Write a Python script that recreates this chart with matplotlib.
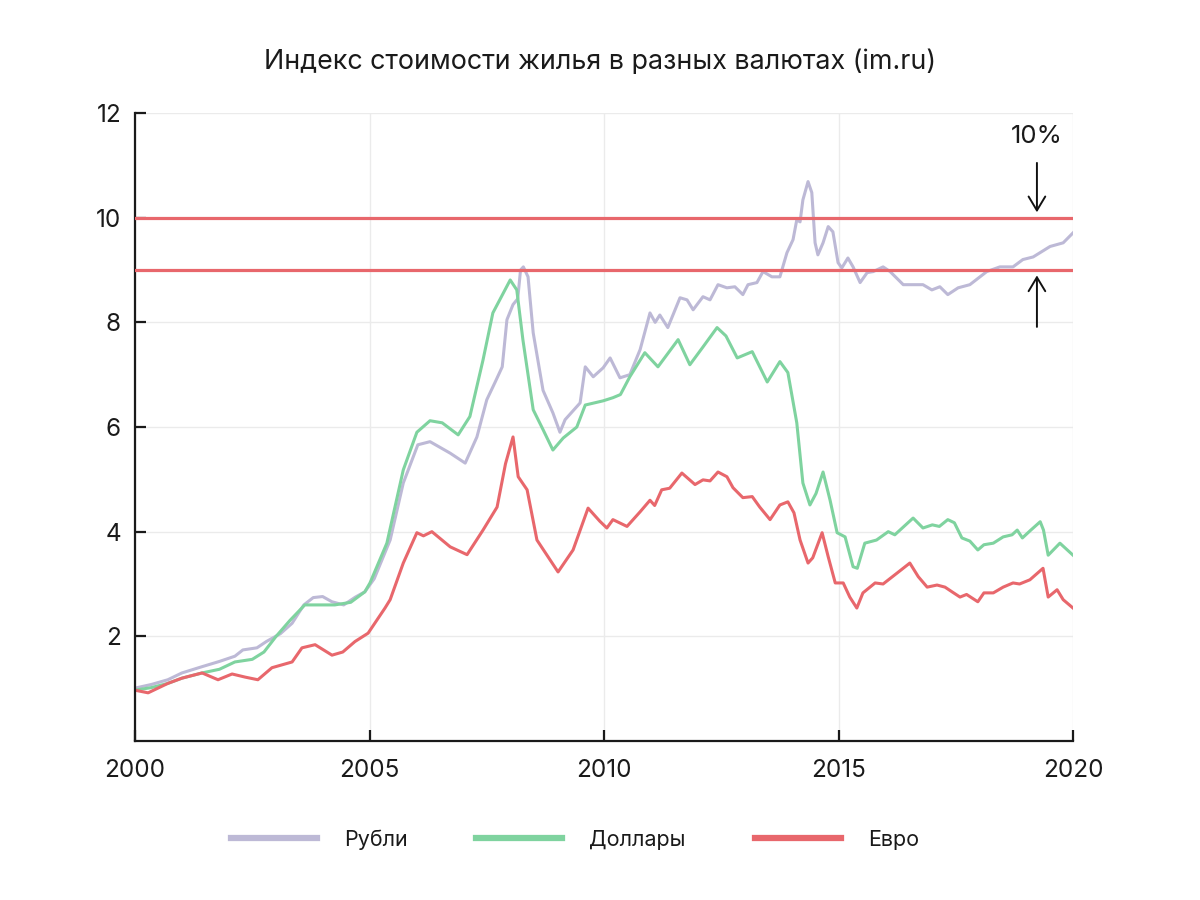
import numpy as np
import matplotlib.pyplot as plt

plt.rcParams['font.family'] = ['Inter', 'DejaVu Sans']

# index values (year, value)
rub_x = [2000.0, 2000.35, 2000.7, 2001.0, 2001.43, 2001.8, 2002.13, 2002.3, 2002.6, 2002.8,
         2003.1, 2003.35, 2003.6, 2003.8, 2004.0, 2004.2, 2004.45, 2004.7, 2004.9, 2005.1,
         2005.44, 2005.72, 2006.03, 2006.29, 2006.72, 2007.04, 2007.29, 2007.5, 2007.68, 2007.83,
         2007.93, 2008.06, 2008.16, 2008.22, 2008.28, 2008.38, 2008.49, 2008.7, 2008.91, 2009.06,
         2009.17, 2009.49, 2009.6, 2009.77, 2009.98, 2010.13, 2010.34, 2010.55, 2010.77, 2010.98,
         2011.09, 2011.19, 2011.36, 2011.62, 2011.77, 2011.9, 2012.11, 2012.26, 2012.43, 2012.62,
         2012.79, 2012.96, 2013.07, 2013.26, 2013.39, 2013.58, 2013.75, 2013.9, 2014.03, 2014.11,
         2014.18, 2014.24, 2014.35, 2014.43, 2014.5, 2014.56, 2014.67, 2014.78, 2014.88, 2014.99,
         2015.07, 2015.2, 2015.31, 2015.46, 2015.61, 2015.74, 2015.95, 2016.1, 2016.38, 2016.8,
         2016.99, 2017.16, 2017.33, 2017.55, 2017.8, 2018.16, 2018.44, 2018.72, 2018.93, 2019.15,
         2019.51, 2019.79, 2020.0]
rub_y = [1.01, 1.08, 1.17, 1.3, 1.42, 1.52, 1.62, 1.74, 1.78, 1.9,
         2.05, 2.25, 2.6, 2.74, 2.76, 2.66, 2.6, 2.75, 2.85, 3.1,
         3.84, 4.93, 5.66, 5.72, 5.5, 5.31, 5.81, 6.52, 6.86, 7.15,
         8.05, 8.34, 8.45, 9.0, 9.06, 8.87, 7.8, 6.7, 6.27, 5.9,
         6.14, 6.46, 7.15, 6.96, 7.13, 7.32, 6.94, 7.0, 7.48, 8.18,
         8.0, 8.14, 7.9, 8.47, 8.43, 8.24, 8.49, 8.43, 8.72, 8.66,
         8.68, 8.53, 8.72, 8.76, 8.97, 8.87, 8.87, 9.33, 9.58, 9.96,
         9.92, 10.34, 10.69, 10.48, 9.52, 9.29, 9.52, 9.83, 9.73, 9.14,
         9.04, 9.23, 9.06, 8.76, 8.95, 8.97, 9.06, 8.97, 8.72, 8.72,
         8.62, 8.68, 8.53, 8.66, 8.72, 8.97, 9.06, 9.06, 9.2, 9.25,
         9.45, 9.52, 9.71]

usd_x = [2000.0, 2000.35, 2000.7, 2001.0, 2001.43, 2001.8, 2002.13, 2002.5, 2002.75, 2003.0,
         2003.3, 2003.62, 2004.0, 2004.26, 2004.6, 2004.9, 2005.01, 2005.37, 2005.72, 2006.01,
         2006.29, 2006.55, 2006.89, 2007.14, 2007.42, 2007.63, 2008.0, 2008.14, 2008.27, 2008.49,
         2008.7, 2008.91, 2009.13, 2009.42, 2009.6, 2009.98, 2010.19, 2010.35, 2010.55, 2010.87,
         2011.15, 2011.58, 2011.83, 2012.11, 2012.41, 2012.6, 2012.84, 2013.16, 2013.48, 2013.75,
         2013.92, 2014.11, 2014.24, 2014.39, 2014.52, 2014.67, 2014.82, 2014.97, 2015.14, 2015.31,
         2015.4, 2015.56, 2015.81, 2016.06, 2016.2, 2016.59, 2016.8, 2017.0, 2017.15, 2017.33,
         2017.47, 2017.63, 2017.8, 2017.97, 2018.1, 2018.3, 2018.51, 2018.7, 2018.81, 2018.92,
         2019.1, 2019.3, 2019.37, 2019.47, 2019.72, 2020.0]
usd_y = [0.97, 1.02, 1.1, 1.2, 1.3, 1.37, 1.51, 1.56, 1.7, 1.99,
         2.3, 2.6, 2.6, 2.6, 2.65, 2.85, 3.02, 3.78, 5.18, 5.9,
         6.12, 6.08, 5.85, 6.2, 7.28, 8.18, 8.81, 8.62, 7.67, 6.33,
         5.95, 5.56, 5.79, 6.0, 6.42, 6.5, 6.56, 6.62, 6.96, 7.42,
         7.15, 7.67, 7.19, 7.53, 7.9, 7.74, 7.32, 7.44, 6.86, 7.25,
         7.04, 6.08, 4.93, 4.51, 4.73, 5.14, 4.6, 3.98, 3.9, 3.33,
         3.3, 3.78, 3.84, 4.0, 3.94, 4.26, 4.07, 4.13, 4.1, 4.23,
         4.17, 3.88, 3.82, 3.65, 3.75, 3.78, 3.9, 3.94, 4.03, 3.88,
         4.03, 4.19, 4.03, 3.55, 3.78, 3.55]

eur_x = [2000.0, 2000.28, 2000.7, 2001.0, 2001.43, 2001.77, 2002.07, 2002.35, 2002.62, 2002.92,
         2003.35, 2003.56, 2003.84, 2004.2, 2004.43, 2004.69, 2004.97, 2005.33, 2005.44, 2005.72,
         2006.01, 2006.15, 2006.33, 2006.72, 2007.08, 2007.42, 2007.72, 2007.9, 2008.06, 2008.17,
         2008.36, 2008.57, 2009.02, 2009.34, 2009.66, 2009.91, 2010.06, 2010.19, 2010.49, 2010.77,
         2010.98, 2011.08, 2011.23, 2011.4, 2011.66, 2011.94, 2012.11, 2012.26, 2012.43, 2012.62,
         2012.75, 2012.96, 2013.16, 2013.32, 2013.54, 2013.75, 2013.92, 2014.05, 2014.18, 2014.35,
         2014.45, 2014.65, 2014.78, 2014.93, 2015.1, 2015.24, 2015.39, 2015.52, 2015.78, 2015.95,
         2016.25, 2016.52, 2016.7, 2016.89, 2017.1, 2017.27, 2017.42, 2017.59, 2017.73, 2017.97,
         2018.1, 2018.3, 2018.51, 2018.72, 2018.86, 2019.08, 2019.36, 2019.47, 2019.66, 2019.79,
         2020.0]
eur_y = [0.97, 0.92, 1.1, 1.2, 1.3, 1.17, 1.28, 1.22, 1.17, 1.4,
         1.51, 1.78, 1.84, 1.64, 1.7, 1.9, 2.06, 2.54, 2.7, 3.4,
         3.98, 3.92, 4.0, 3.71, 3.56, 4.03, 4.47, 5.3, 5.81, 5.05,
         4.8, 3.84, 3.23, 3.65, 4.45, 4.2, 4.07, 4.23, 4.1, 4.38,
         4.6, 4.5, 4.8, 4.83, 5.12, 4.9, 4.99, 4.97, 5.14, 5.05,
         4.84, 4.65, 4.67, 4.47, 4.23, 4.51, 4.57, 4.36, 3.84, 3.4,
         3.5, 3.98, 3.52, 3.02, 3.02, 2.75, 2.54, 2.83, 3.02, 3.0,
         3.21, 3.4, 3.14, 2.94, 2.98, 2.94, 2.85, 2.75, 2.8, 2.66,
         2.83, 2.83, 2.94, 3.02, 3.0, 3.08, 3.3, 2.75, 2.89, 2.7,
         2.54]

band = [9, 10]
labels = ['Рубли', 'Доллары', 'Евро']
colors = ['#bdb9d6', '#7fd39f', '#e8676c']

fig = plt.figure(figsize=(12, 9), dpi=100)
ax = fig.add_axes([0.1125, 0.1767, 0.7817, 0.6977])

ax.plot(rub_x, rub_y, color=colors[0], lw=2.2, label=labels[0], solid_joinstyle='round')
ax.plot(usd_x, usd_y, color=colors[1], lw=2.2, label=labels[1], solid_joinstyle='round')
ax.plot(eur_x, eur_y, color=colors[2], lw=2.2, label=labels[2], solid_joinstyle='round')
for b in band:
    ax.axhline(b, color=colors[2], lw=2.3, zorder=3)

ax.set_xlim(2000, 2020)
ax.set_ylim(0, 12)
ax.set_xticks([2000, 2005, 2010, 2015, 2020])
ax.set_yticks([2, 4, 6, 8, 10, 12])
ax.grid(color='#ebebeb', lw=1.0)
ax.set_axisbelow(True)
for s in ['top', 'right']:
    ax.spines[s].set_visible(False)
for s in ['left', 'bottom']:
    ax.spines[s].set_linewidth(1.6)
    ax.spines[s].set_color('#1a1a1a')
ax.tick_params(direction='in', length=8, width=1.6, labelsize=17.5, colors='#1a1a1a')
ax.tick_params(axis='x', pad=13)
ax.tick_params(axis='y', pad=10)

# 10% annotation
ax.annotate('', xy=(2019.23, 10.05), xytext=(2019.23, 11.1),
            arrowprops=dict(arrowstyle='->,head_length=0.5,head_width=0.3',
                            color='#111111', lw=1.4, mutation_scale=20))
ax.annotate('', xy=(2019.23, 8.95), xytext=(2019.23, 7.86),
            arrowprops=dict(arrowstyle='->,head_length=0.5,head_width=0.3',
                            color='#111111', lw=1.4, mutation_scale=20))
ax.text(2019.23, 11.55, '10%', ha='center', va='center', fontsize=18.5, color='#1a1a1a')

fig.text(0.5, 0.931, 'Индекс стоимости жилья в разных валютах (im.ru)',
         ha='center', va='center', fontsize=19.3, color='#1a1a1a')

fig.legend(loc='center', bbox_to_anchor=(0.479, 0.067), ncol=3, frameon=False,
           fontsize=15.5, handlelength=4.0, handletextpad=1.25, columnspacing=3.2,
           labelcolor='#1a1a1a')
for line in fig.legends[0].get_lines():
    line.set_linewidth(4.5)

fig.savefig('out.png', dpi=100)
